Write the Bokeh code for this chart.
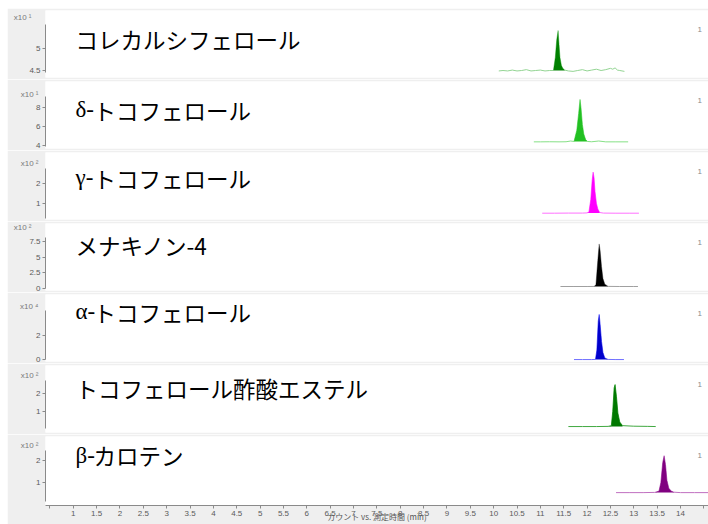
import numpy as np
from bokeh.plotting import figure
from bokeh.layouts import column
from bokeh.models import Range1d, FixedTicker, Label, LinearAxis
from bokeh.embed import file_html
from bokeh.resources import INLINE

# ---- compounds (one panel each) ----
names_greek = ["", "δ-", "γ-", "", "α-", "", "β-"]
names_rest = ["コレカルシフェロール", "トコフェロール", "トコフェロール", "メナキノン-4",
              "トコフェロール", "トコフェロール酢酸エステル", "カロテン"]
scale_labels = ["x10 ¹", "x10 ¹", "x10 ²", "x10 ²", "x10 ⁴", "x10 ²", "x10 ²"]

# y axis ticks per panel (in units of the panel's scale factor)
y_ticks = [[4.5, 5], [4, 6, 8], [1, 2], [0, 2.5, 5, 7.5], [0, 2], [1, 2], [1, 2]]

# retention time (min) and counts for each trace
t1 = [10.11, 10.2, 10.3, 10.4, 10.5, 10.6, 10.7, 10.8, 10.9, 11.0, 11.1, 11.2, 11.28, 11.32,
      11.35, 11.38, 11.40, 11.42, 11.45, 11.48, 11.52, 11.6, 11.7, 11.8, 11.9, 12.0, 12.1,
      12.2, 12.3, 12.4, 12.5, 12.55, 12.6, 12.65, 12.7, 12.8]
y1 = [4.49, 4.50, 4.49, 4.51, 4.49, 4.50, 4.52, 4.49, 4.50, 4.51, 4.49, 4.50, 4.50, 4.80,
      5.20, 5.42, 5.10, 4.80, 4.62, 4.55, 4.51, 4.49, 4.48, 4.50, 4.52, 4.49, 4.51, 4.53,
      4.50, 4.52, 4.55, 4.53, 4.56, 4.51, 4.50, 4.48]
t2 = [10.86, 11.0, 11.2, 11.4, 11.55, 11.65, 11.72, 11.78, 11.82, 11.85, 11.87, 11.9, 11.93,
      11.97, 12.01, 12.1, 12.25, 12.4, 12.6, 12.88]
y2 = [4.36, 4.36, 4.37, 4.36, 4.37, 4.45, 4.40, 5.6, 7.4, 8.89, 8.0, 6.2, 5.2, 4.6, 4.40,
      4.37, 4.45, 4.36, 4.36, 4.36]
t3 = [11.04, 11.3, 11.6, 11.9, 12.0, 12.04, 12.08, 12.11, 12.13, 12.15, 12.17, 12.2, 12.23,
      12.27, 12.35, 12.6, 12.9, 13.11]
y3 = [0.485, 0.485, 0.49, 0.49, 0.50, 0.55, 1.2, 2.2, 2.6, 2.3, 1.6, 1.0, 0.70, 0.52, 0.49,
      0.485, 0.485, 0.485]
t4 = [11.43, 11.7, 12.0, 12.15, 12.19, 12.23, 12.26, 12.28, 12.31, 12.34, 12.38, 12.45, 12.7,
      13.0, 13.09]
y4 = [0.32, 0.32, 0.32, 0.33, 0.6, 4.5, 7.13, 6.0, 3.5, 1.6, 0.7, 0.34, 0.32, 0.32, 0.32]
t5 = [11.72, 11.9, 12.1, 12.18, 12.21, 12.24, 12.26, 12.28, 12.31, 12.34, 12.38, 12.45, 12.6,
      12.79]
y5 = [0.02, 0.02, 0.02, 0.03, 0.8, 3.2, 3.73, 2.9, 1.5, 0.6, 0.15, 0.03, 0.02, 0.02]
t6 = [11.6, 11.9, 12.2, 12.45, 12.52, 12.55, 12.58, 12.60, 12.63, 12.66, 12.70, 12.76, 13.0,
      13.3, 13.47]
y6 = [0.15, 0.15, 0.15, 0.16, 0.2, 1.0, 2.3, 2.48, 1.8, 0.9, 0.4, 0.2, 0.17, 0.16, 0.15]
t7 = [12.62, 12.9, 13.2, 13.45, 13.54, 13.58, 13.62, 13.65, 13.68, 13.71, 13.75, 13.8, 13.86,
      14.0, 14.3, 14.6]
y7 = [0.55, 0.55, 0.55, 0.56, 0.62, 1.0, 1.9, 2.2, 1.8, 1.1, 0.75, 0.62, 0.57, 0.55, 0.55, 0.55]

# integrated peak windows (min)
peak_windows = [(11.28, 11.52), (11.72, 12.01), (12.0, 12.27), (12.15, 12.45),
                (12.18, 12.45), (12.45, 12.76), (13.45, 13.86)]

# x axis ticks and labels
x_ticks = [0.5, 1, 1.5, 2, 2.5, 3, 3.5, 4, 4.5, 5, 5.5, 6, 6.5, 7, 7.5, 8, 8.5, 9, 9.5, 10,
           10.5, 11, 11.5, 12, 12.5, 13, 13.5, 14, 14.5]
x_labels = ["", "1", "1.5", "2", "2.5", "3", "3.5", "4", "4.5", "5", "5.5", "6", "6.5", "7",
            "7.5", "8", "8.5", "9", "9.5", "10", "10.5", "11", "11.5", "12", "12.5", "13",
            "13.5", "14", ""]
x_title = "カウント vs. 測定時間 (min)"

traces = [(t1, y1), (t2, y2), (t3, y3), (t4, y4), (t5, y5), (t6, y6), (t7, y7)]

# ---- styling / layout ----
line_colors = ["#93d493", "#86e086", "#ff70ff", "#a0a0a0", "#7070ff", "#40a840", "#c070c0"]
fill_colors = ["#008000", "#22c022", "#ff00ff", "#000000", "#0000cc", "#007800", "#800080"]
y_ranges = [(4.339, 5.882), (3.65, 10.81), (0.16, 3.61), (-0.32, 10.4), (-0.14, 5.37),
            (-0.18, 3.54), (-0.026, 3.06)]
axis_bounds = [(4.45, 5.55), (3.9, 9.2), (0.2, 2.8), (0.0, 8.1), (0.0, 4.06), (0.05, 2.7),
               (0.15, 2.45)]
title_offsets = [28, 28, 25, 21, 17, 22, 19]
scale_offsets = [7, 13, 11, 1, 12, 10, 9]

GRAY = "#efefef"
X_START, X_END = 0.405, 14.6
FRAME_LEFT, FRAME_W = 45, 663
TICK_COLOR = "#5a5a5a"
AXIS_COLOR = "#8a8a8a"
JP_FONT = "Noto Sans CJK JP"


def x_at(px):
    return X_START + (px - FRAME_LEFT) * (X_END - X_START) / FRAME_W


def y_at(rng, frame_h, off):
    lo, hi = rng
    return hi - (hi - lo) * off / frame_h


def style_axis(ax):
    ax.axis_line_color = AXIS_COLOR
    ax.major_tick_line_color = AXIS_COLOR
    ax.major_tick_out = 3
    ax.major_tick_in = 0
    ax.minor_tick_line_color = None
    ax.major_label_text_font_size = "8px"
    ax.major_label_text_color = TICK_COLOR
    ax.major_label_text_font = "Liberation Sans"
    ax.major_label_standoff = 2


panels = []
n = len(traces)
for i, (t, y) in enumerate(traces):
    last = i == n - 1
    frame_h = 70 if last else 67
    h = frame_h + 2 + (18 if last else 2)
    rng = y_ranges[i]
    p = figure(width=701, height=h,
               x_range=Range1d(X_START, X_END), y_range=Range1d(*rng),
               x_axis_location="below" if last else None,
               output_backend="svg", toolbar_location=None,
               min_border_left=38, min_border_right=0, min_border_top=2,
               min_border_bottom=18 if last else 2,
               border_fill_color=GRAY, background_fill_color="white",
               outline_line_color=None)
    p.grid.visible = False

    ya = p.yaxis[0]
    ya.ticker = FixedTicker(ticks=y_ticks[i])
    ya.bounds = axis_bounds[i]
    style_axis(ya)

    # scale factor ("x10 n") shown above the y axis through a bare extra axis
    sy = round(y_at(rng, frame_h, scale_offsets[i]), 4)
    p.extra_y_ranges = {"scale": Range1d(*rng)}
    sax = LinearAxis(y_range_name="scale", ticker=FixedTicker(ticks=[sy]),
                     major_label_overrides={sy: scale_labels[i]})
    sax.axis_line_color = None
    sax.major_tick_line_color = None
    sax.major_tick_out = 0
    sax.major_tick_in = 0
    sax.minor_tick_line_color = None
    sax.major_label_standoff = -5
    sax.major_label_text_font_size = "8px"
    sax.major_label_text_color = "#7a7a7a"
    sax.major_label_text_font = "Liberation Sans"
    p.add_layout(sax, "left")

    if last:
        xa = p.xaxis[0]
        xa.ticker = FixedTicker(ticks=x_ticks)
        xa.major_label_overrides = {k: v for k, v in zip(x_ticks, x_labels)}
        style_axis(xa)
        xa.axis_label = x_title
        xa.axis_label_text_font = JP_FONT
        xa.axis_label_text_font_size = "8px"
        xa.axis_label_text_font_style = "normal"
        xa.axis_label_text_color = "#555555"
        xa.axis_label_standoff = -8

    ta = np.array(t)
    yv = np.array(y)
    p.line(ta, yv, line_color=line_colors[i], line_width=1)
    w0, w1 = peak_windows[i]
    m = (ta >= w0) & (ta <= w1)
    base = yv[m][0]
    p.varea(x=ta[m], y1=base, y2=yv[m], fill_color=fill_colors[i])

    ty = y_at(rng, frame_h, title_offsets[i])
    if names_greek[i]:
        p.add_layout(Label(x=x_at(75), y=ty, text=names_greek[i], text_font="Liberation Serif",
                           text_font_size="23px", text_color="black", text_baseline="middle"))
        p.add_layout(Label(x=x_at(93), y=ty, text=names_rest[i], text_font=JP_FONT,
                           text_font_size="22.5px", text_color="black", text_baseline="middle"))
    else:
        p.add_layout(Label(x=x_at(75), y=ty, text=names_rest[i], text_font=JP_FONT,
                           text_font_size="22.5px", text_color="black", text_baseline="middle"))

    # panel index at the right edge
    p.add_layout(Label(x=x_at(697), y=y_at(rng, frame_h, 19), text="1",
                       text_font="Liberation Sans", text_font_size="8px",
                       text_color="#8a8a8a", text_baseline="middle"))
    panels.append(p)

layout = column(*panels, spacing=0, margin=(8, 0, 0, 7))

open("out.html", "w").write(file_html(layout, INLINE))
